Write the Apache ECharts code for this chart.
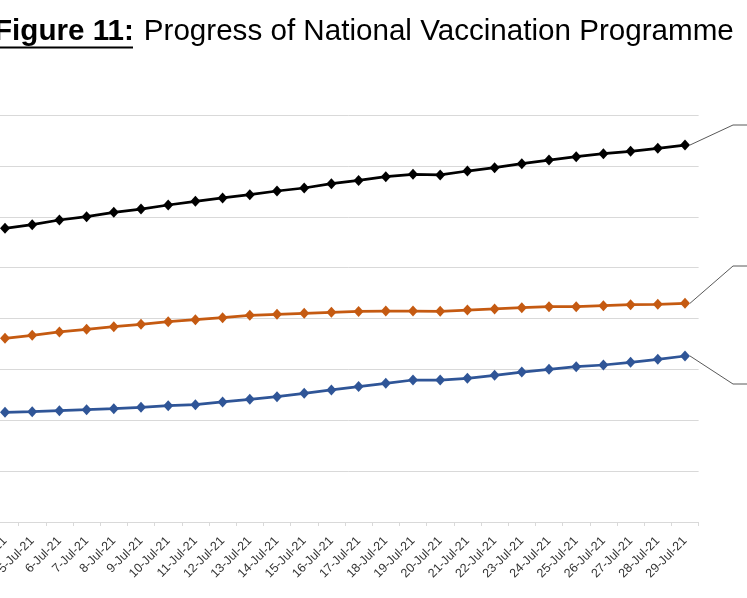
<!DOCTYPE html>
<html>
<head>
<meta charset="utf-8">
<script src="https://cdn.jsdelivr.net/npm/echarts@6/dist/echarts.min.js"></script>
<style>
  html, body { margin: 0; padding: 0; background: #fff; }
  #chart { width: 747px; height: 598px; }
</style>
</head>
<body>
<div id="chart"></div>
<script>
// dates on the x axis (4-Jul-21 is cut at the left edge)
var dates = ['4-Jul-21', '5-Jul-21', '6-Jul-21', '7-Jul-21', '8-Jul-21', '9-Jul-21', '10-Jul-21',
  '11-Jul-21', '12-Jul-21', '13-Jul-21', '14-Jul-21', '15-Jul-21', '16-Jul-21', '17-Jul-21',
  '18-Jul-21', '19-Jul-21', '20-Jul-21', '21-Jul-21', '22-Jul-21', '23-Jul-21', '24-Jul-21',
  '25-Jul-21', '26-Jul-21', '27-Jul-21', '28-Jul-21', '29-Jul-21'];

// values (doses)
var totalDoses = [577300, 584400, 593600, 600100, 608700, 615200, 623100, 630400, 636900, 643400,
  650600, 656500, 665000, 671300, 678700, 683400, 682100, 689900, 696400, 704300,
  711500, 718000, 723900, 728600, 734500, 741000];
var firstDose = [361100, 367000, 373500, 378800, 383900, 388600, 393700, 397600, 401600, 406300,
  408300, 410200, 412200, 413800, 414700, 414700, 414100, 416700, 418700, 421200,
  423200, 423200, 425200, 427100, 427900, 429900];
var secondDose = [215600, 216800, 218800, 220700, 222700, 225500, 228600, 230600, 235900, 241200,
  246300, 253000, 259500, 266300, 272600, 279100, 279100, 282500, 288400, 294800,
  300100, 305300, 308600, 313900, 319800, 326300];

var seriesNames = ['Total Doses', 'First Dose', 'Second Dose'];
var seriesColors = ['#000000', '#C55A11', '#2F5597'];
var calloutY = [125, 266, 384];   // where the callout lines turn (labels sit off the picture)

function withCallout(values, idx) {
  var out = values.slice();
  var last = out.length - 1;
  out[last] = {
    value: values[last],
    label: {
      show: true,
      formatter: seriesNames[idx] + ': {c}',
      color: '#404040',
      fontSize: 12
    },
    labelLine: {
      show: true,
      length2: 20,
      lineStyle: { color: '#595959', width: 1 }
    }
  };
  return out;
}

function makeSeries(values, idx) {
  return {
    name: seriesNames[idx],
    type: 'line',
    data: withCallout(values, idx),
    symbol: 'diamond',
    symbolSize: [10, 11],
    showAllSymbol: true,
    lineStyle: { color: seriesColors[idx], width: 2.75 },
    itemStyle: { color: seriesColors[idx] },
    labelLayout: function () {
      return { x: 753, y: calloutY[idx], align: 'left', verticalAlign: 'middle' };
    },
    emphasis: { disabled: true }
  };
}

var myChart = echarts.init(document.getElementById('chart'));
myChart.setOption({
  animation: false,
  backgroundColor: '#fff',
  textStyle: { fontFamily: 'Liberation Sans, Arial, sans-serif' },
  title: {
    left: -6,
    top: 17,
    padding: 0,
    text: '{b|Figure 11:}{n|Progress of National Vaccination Programme}',
    textStyle: {
      rich: {
        b: { fontSize: 29.6, fontWeight: 'bold', color: '#000', fontFamily: 'Liberation Sans' },
        n: { fontSize: 29.6, fontWeight: 'normal', color: '#000', fontFamily: 'Liberation Sans',
             padding: [0, 0, 0, 10] }
      }
    }
  },
  graphic: [{
    // underline under "Figure 11:"
    type: 'rect',
    shape: { x: 0, y: 46.5, width: 133, height: 2 },
    style: { fill: '#000' },
    silent: true
  }],
  grid: { left: -8.6, right: 48.4, top: 115, bottom: 76, containLabel: false, outerBoundsMode: 'none' },
  xAxis: {
    type: 'category',
    data: dates,
    boundaryGap: true,
    axisLine: { lineStyle: { color: '#d9d9d9', width: 1 } },
    axisTick: { show: true, length: 4, lineStyle: { color: '#d9d9d9' } },
    axisLabel: {
      interval: 0,
      rotate: 45,
      margin: 17,
      fontSize: 12.5,
      color: '#333333',
      fontFamily: 'Liberation Sans'
    }
  },
  yAxis: {
    type: 'value',
    min: 0,
    max: 800000,
    interval: 100000,
    axisLine: { show: false },
    axisTick: { show: false },
    axisLabel: { show: false },
    splitLine: { lineStyle: { color: '#d9d9d9', width: 1 } }
  },
  series: [
    makeSeries(totalDoses, 0),
    makeSeries(firstDose, 1),
    makeSeries(secondDose, 2)
  ]
});
</script>
</body>
</html>
